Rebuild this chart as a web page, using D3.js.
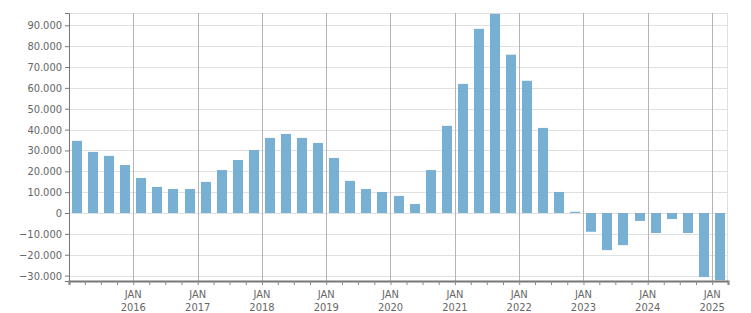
<!DOCTYPE html>
<html>
<head>
<meta charset="utf-8">
<script src="https://cdnjs.cloudflare.com/ajax/libs/d3/7.8.5/d3.min.js"></script>
<style>
  body { margin: 0; background: #fff; }
  text { font-family: "DejaVu Sans Condensed", "DejaVu Sans", sans-serif; font-size: 11px; fill: #666; }
</style>
</head>
<body>
<div id="chart"></div>
<script>
// quarterly values, Q1 2015 .. Q1 2025
var quarters = [];
for (var y = 2015; y <= 2025; y++) {
  for (var q = 0; q < 4; q++) {
    if (y === 2025 && q > 0) break;
    quarters.push(new Date(y, q * 3, 1));
  }
}
var values = [
  34600, 29300, 27400, 23000,
  16800, 12500, 11500, 11500,
  14900, 20600, 25400, 30200,
  36000, 37900, 36000, 33600,
  26400, 15400, 11500, 10100,
  8200, 4300, 20600, 41800,
  61900, 88300, 95500, 75900,
  63400, 40800, 10100, 600,
  -9000, -17800, -15400, -3800,
  -9600, -2900, -9600, -30700,
  -32200
];
var yTicks = [-30000, -20000, -10000, 0, 10000, 20000, 30000, 40000, 50000, 60000, 70000, 80000, 90000];
var yearTicks = d3.range(2016, 2026).map(function(y) { return new Date(y, 0, 1); });

var data = quarters.map(function(d, i) { return { date: d, value: values[i] }; });

var width = 751, height = 313;
var margin = { top: 13, right: 23, bottom: 32, left: 69 };
var innerW = width - margin.left - margin.right;
var innerH = height - margin.top - margin.bottom;

var svg = d3.select("#chart").append("svg")
  .attr("width", width)
  .attr("height", height);

var g = svg.append("g").attr("transform", "translate(" + margin.left + "," + margin.top + ")");

var x = d3.scaleTime()
  .domain([new Date(2015, 0, 1), new Date(2025, 3, 1)])
  .range([0, innerW]);

var y = d3.scaleLinear()
  .domain([-32600, 95900])
  .range([innerH, 0]);

var fmt = function(v) { return d3.format(",")(v).replace(/,/g, "."); };

// horizontal grid
g.append("g")
  .selectAll("line")
  .data(yTicks)
  .enter().append("line")
    .attr("x1", 0).attr("x2", innerW)
    .attr("y1", function(d) { return Math.round(y(d)) + 0.5; })
    .attr("y2", function(d) { return Math.round(y(d)) + 0.5; })
    .attr("stroke", "#e0e0e0");

// top and right border
g.append("line").attr("x1", 0).attr("x2", innerW).attr("y1", 0.5).attr("y2", 0.5).attr("stroke", "#e0e0e0");
g.append("line").attr("x1", innerW - 0.5).attr("x2", innerW - 0.5).attr("y1", 0).attr("y2", innerH).attr("stroke", "#e0e0e0");

// vertical year grid
g.append("g")
  .selectAll("line")
  .data(yearTicks)
  .enter().append("line")
    .attr("x1", function(d) { return Math.round(x(d)) + 0.5; })
    .attr("x2", function(d) { return Math.round(x(d)) + 0.5; })
    .attr("y1", 0).attr("y2", innerH)
    .attr("stroke", "#b4b4b4");

// bars
var barW = 10;
g.append("g")
  .selectAll("rect")
  .data(data)
  .enter().append("rect")
    .attr("x", function(d) {
      var mid = (x(d.date) + x(d3.timeMonth.offset(d.date, 3))) / 2;
      return Math.round(mid - barW / 2);
    })
    .attr("width", barW)
    .attr("y", function(d) { return y(Math.max(0, d.value)); })
    .attr("height", function(d) { return Math.abs(y(d.value) - y(0)); })
    .attr("fill", "#77b0d3");

// y axis
var yAxis = g.append("g")
  .call(d3.axisLeft(y).tickValues(yTicks).tickFormat(fmt).tickSize(4).tickPadding(3));
yAxis.select(".domain").attr("stroke", "#777");
yAxis.selectAll(".tick line").attr("stroke", "#777");
yAxis.selectAll("text").attr("fill", "#666").style("font-size", "11px");

// x axis: quarterly minor ticks, year labels
var xAxis = g.append("g")
  .attr("transform", "translate(0," + innerH + ")")
  .call(d3.axisBottom(x).ticks(d3.timeMonth.every(3)).tickSize(4).tickFormat(""));
xAxis.select(".domain").attr("stroke", "#777").attr("stroke-width", 2);
xAxis.selectAll(".tick line").attr("stroke", "#888");

var labels = g.append("g")
  .attr("transform", "translate(0," + innerH + ")")
  .selectAll("text")
  .data(yearTicks)
  .enter().append("text")
    .attr("x", function(d) { return x(d); })
    .attr("text-anchor", "middle");
labels.append("tspan")
  .attr("x", function(d) { return x(d); })
  .attr("y", 17)
  .text("JAN");
labels.append("tspan")
  .attr("x", function(d) { return x(d); })
  .attr("y", 30)
  .text(function(d) { return d.getFullYear(); });
</script>
</body>
</html>
